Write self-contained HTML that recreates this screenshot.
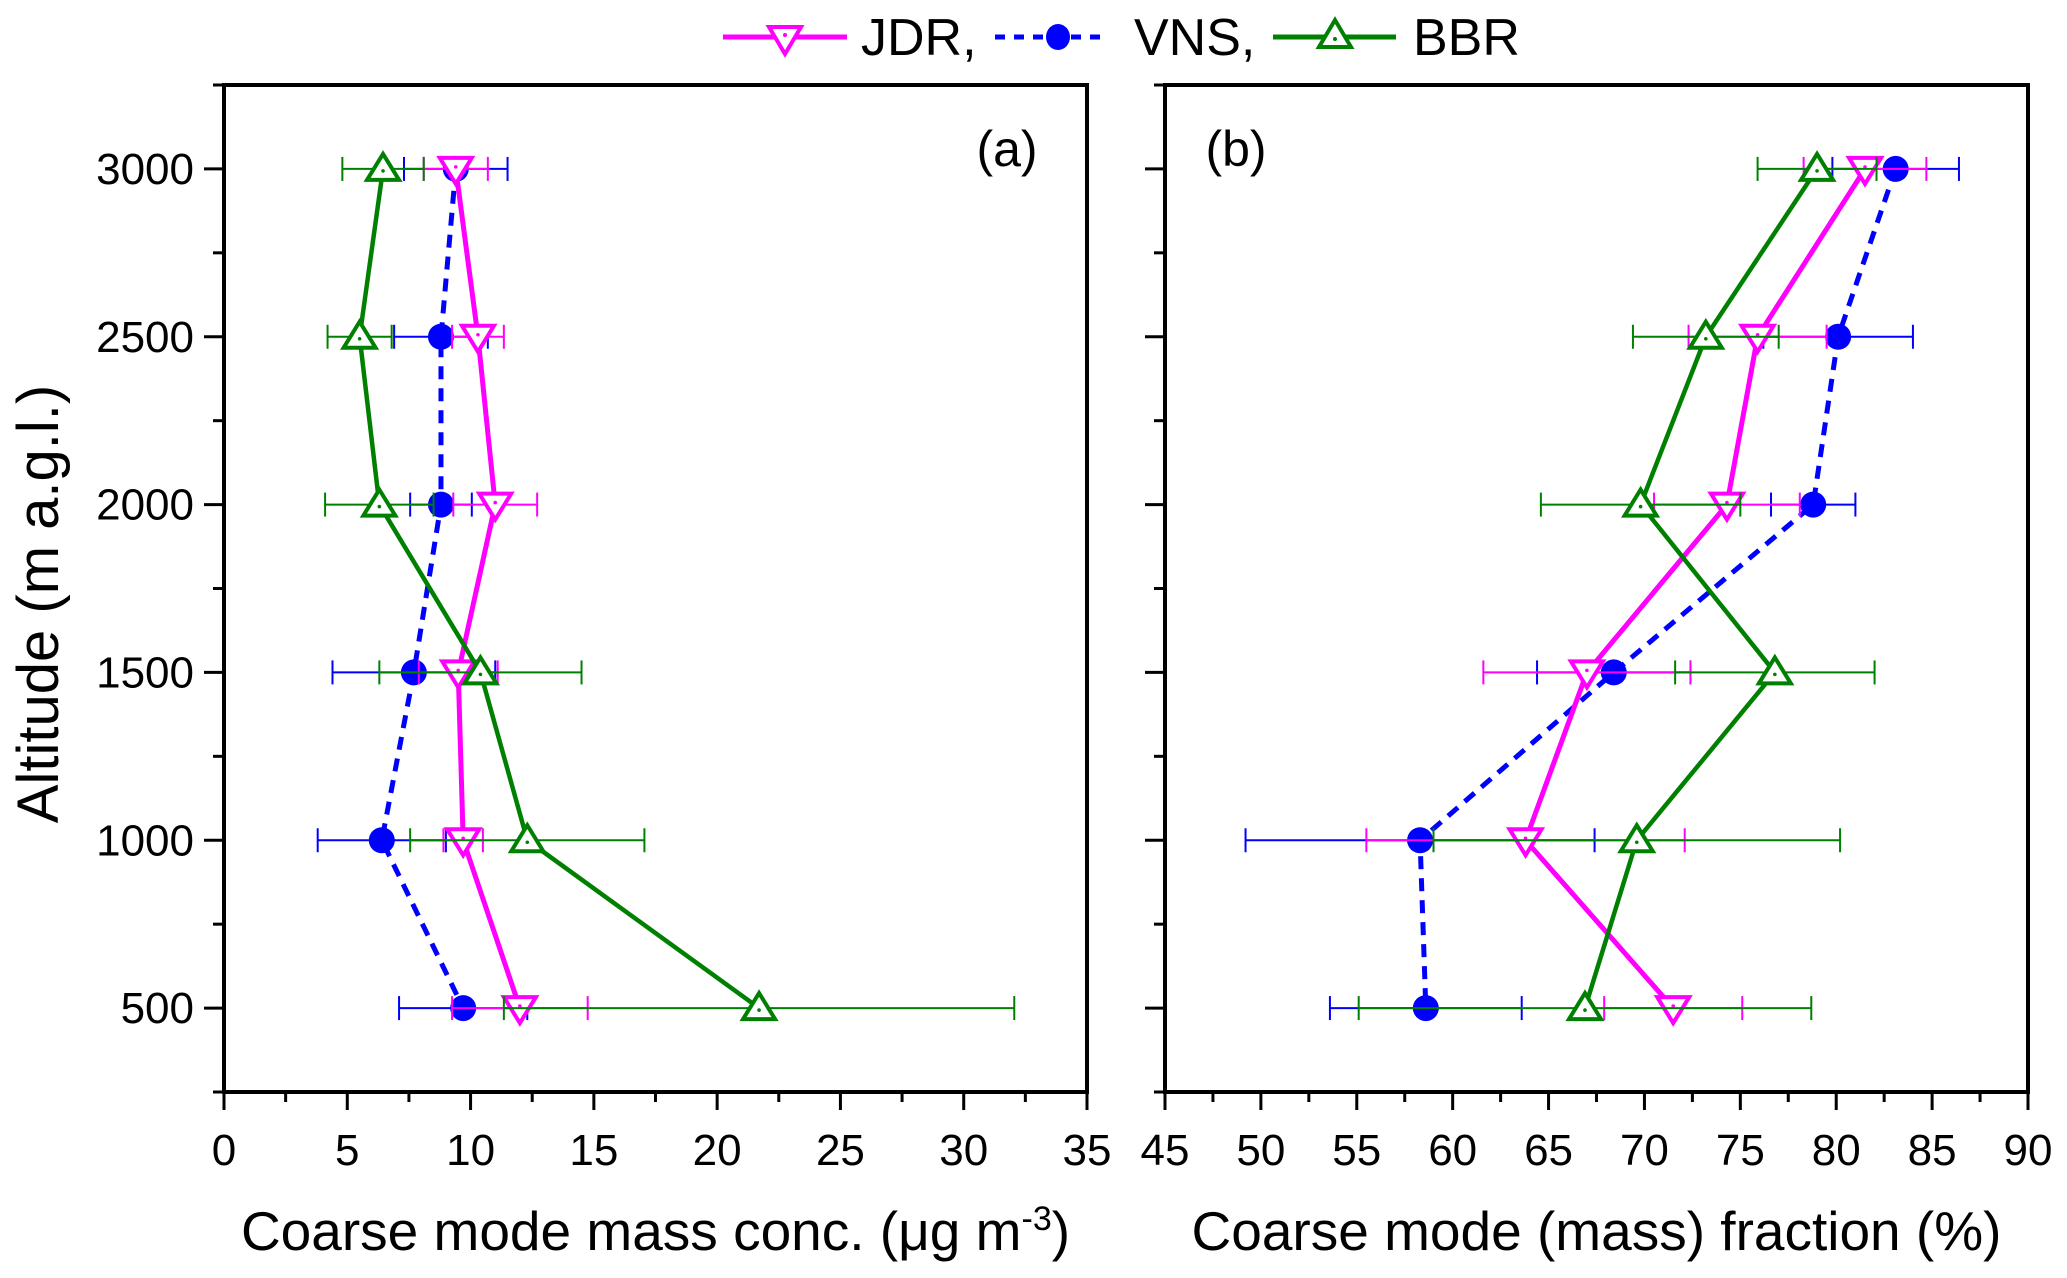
<!DOCTYPE html>
<html><head><meta charset="utf-8"><style>
html,body{margin:0;padding:0;background:#fff;}
svg{display:block;font-family:"Liberation Sans",sans-serif;}
</style></head><body>
<svg id="chart" width="2067" height="1278" viewBox="0 0 2067 1278" xmlns="http://www.w3.org/2000/svg">
<g id="legend">
  <g>
    <line x1="723" y1="37" x2="847" y2="37" stroke="#ff00ff" stroke-width="5"/>
    <path d="M769,27 L801,27 L785,54 Z" fill="#fff" stroke="#ff00ff" stroke-width="4"/>
    <circle cx="785" cy="35" r="2" fill="#ff00ff"/>
    <text x="861" y="55" font-size="52">JDR,</text>
  </g>
  <g>
    <line x1="995" y1="37" x2="1106" y2="37" stroke="#0000ff" stroke-width="5" stroke-dasharray="10,9"/>
    <ellipse cx="1058" cy="37" rx="12" ry="13" fill="#0000ff"/>
    <text x="1134" y="55" font-size="52">VNS,</text>
  </g>
  <g>
    <line x1="1273" y1="37" x2="1396" y2="37" stroke="#008000" stroke-width="5"/>
    <path d="M1319,47 L1351,47 L1335,20 Z" fill="#fff" stroke="#008000" stroke-width="4"/>
    <circle cx="1335" cy="39" r="2" fill="#008000"/>
    <text x="1413" y="55" font-size="52">BBR</text>
  </g>
</g>
</svg>
<script>
const altitudes = [3000, 2500, 2000, 1500, 1000, 500];
// Panel (a): coarse mode mass concentration
const jdrConc = [9.4, 10.3, 11.0, 9.5, 9.7, 12.0];
const jdrConcErr = [1.3, 1.05, 1.7, 1.6, 0.8, 2.75];
const vnsConc = [9.4, 8.8, 8.8, 7.7, 6.4, 9.7];
const vnsConcErr = [2.1, 1.9, 1.25, 3.3, 2.6, 2.6];
const bbrConc = [6.45, 5.5, 6.3, 10.4, 12.3, 21.7];
const bbrConcErr = [1.65, 1.3, 2.2, 4.1, 4.75, 10.35];
// Panel (b): coarse mode mass fraction
const jdrFrac = [81.5, 75.9, 74.3, 67.0, 63.8, 71.5];
const jdrFracErr = [3.2, 3.6, 3.8, 5.4, 8.3, 3.6];
const vnsFrac = [83.1, 80.1, 78.8, 68.4, 58.3, 58.6];
const vnsFracErr = [3.3, 3.9, 2.2, 4.0, 9.1, 5.0];
const bbrFrac = [79.0, 73.2, 69.8, 76.8, 69.6, 66.9];
const bbrFracErr = [3.1, 3.8, 5.2, 5.2, 10.6, 11.8];
const xTicksA = [0, 5, 10, 15, 20, 25, 30, 35];
const xTicksB = [45, 50, 55, 60, 65, 70, 75, 80, 85, 90];
const yTicks = [500, 1000, 1500, 2000, 2500, 3000];

const NS = "http://www.w3.org/2000/svg";
const svg = document.getElementById('chart');
function mk(tag, attrs, parent) {
  const e = document.createElementNS(NS, tag);
  for (const k in attrs) e.setAttribute(k, attrs[k]);
  (parent || svg).appendChild(e);
  return e;
}
const TOP = 85, BOT = 1092, YMIN = 250, YMAX = 3250;
function yScale(v) { return BOT - (v - YMIN) / (YMAX - YMIN) * (BOT - TOP); }

function panel(name, left, right, xmin, xmax, ticks, labelY, title, tag, tagX, series) {
  const g = mk('g', {});
  
  
  const xs = v => left + (v - xmin) / (xmax - xmin) * (right - left);
  const fr = mk('rect', {x: left, y: TOP, width: right - left, height: BOT - TOP, fill: 'none', stroke: '#000', 'stroke-width': 4}, g);
  
  
  const xa = mk('g', {}, g);
  
  
  ticks.forEach((t, i) => {
    const x = xs(t);
    mk('line', {x1: x, y1: BOT, x2: x, y2: BOT + 18, stroke: '#000', 'stroke-width': 3}, xa);
    if (i < ticks.length - 1) {
      const xm = xs(t + (ticks[1] - ticks[0]) / 2);
      mk('line', {x1: xm, y1: BOT, x2: xm, y2: BOT + 10, stroke: '#000', 'stroke-width': 3}, xa);
    }
    const tx = mk('text', {x: x, y: 1165, 'font-size': 44, 'text-anchor': 'middle'}, xa);
    tx.textContent = t;
    
    
  });
  const xt = mk('text', {x: (left + right) / 2, y: 1250, 'font-size': 55, 'text-anchor': 'middle'}, g);
  xt.innerHTML = title;
  
  
  const ya = mk('g', {}, g);
  
  
  for (let v = 250; v <= 3250; v += 250) {
    const y = yScale(v);
    const major = v % 500 === 0;
    mk('line', {x1: left - (major ? 20 : 11), y1: y, x2: left, y2: y, stroke: '#000', 'stroke-width': 3}, ya);
  }
  if (labelY) {
    yTicks.forEach(v => {
      const ty = mk('text', {x: 194, y: yScale(v) + 15, 'font-size': 44, 'text-anchor': 'end'}, ya);
      ty.textContent = v;
      
      
    });
  }
  const tg = mk('text', {x: tagX, y: 166, 'font-size': 50, 'text-anchor': 'middle'}, g);
  tg.textContent = tag;
  
  

  series.forEach(s => {
    const sg = mk('g', {}, g);
    
    
    s.vals.forEach((v, i) => {
      const y = yScale(altitudes[i]);
      const a = xs(v - s.err[i]), b = xs(v + s.err[i]);
      const eb = mk('g', {stroke: s.color, 'stroke-width': 2}, sg);
      
      
      mk('line', {x1: a, y1: y, x2: b, y2: y}, eb);
      mk('line', {x1: a, y1: y - 12, x2: a, y2: y + 12}, eb);
      mk('line', {x1: b, y1: y - 12, x2: b, y2: y + 12}, eb);
    });
    const pts = s.vals.map((v, i) => xs(v) + ',' + yScale(altitudes[i])).join(' ');
    const ln = mk('polyline', {points: pts, fill: 'none', stroke: s.color, 'stroke-width': s.lw, 'stroke-dasharray': s.dash || 'none', 'stroke-linejoin': 'round'}, sg);
    
    
    s.vals.forEach((v, i) => {
      const x = xs(v), y = yScale(altitudes[i]);
      let m;
      if (s.marker === 'circle') {
        m = mk('ellipse', {cx: x, cy: y, rx: 13, ry: 13, fill: s.color}, sg);
      } else if (s.marker === 'down') {
        m = mk('path', {d: `M${x-16},${y-11} L${x+16},${y-11} L${x},${y+15} Z`, fill: '#fff', stroke: s.color, 'stroke-width': 4}, sg);
        mk('circle', {cx: x, cy: y - 2, r: 1.8, fill: s.color}, sg);
      } else {
        m = mk('path', {d: `M${x-16},${y+11} L${x+16},${y+11} L${x},${y-15} Z`, fill: '#fff', stroke: s.color, 'stroke-width': 4}, sg);
        mk('circle', {cx: x, cy: y + 2, r: 1.8, fill: s.color}, sg);
      }
      
      
    });
  });
}

panel('a', 224, 1087, 0, 35, xTicksA, true,
  'Coarse mode mass conc. (μg m<tspan dy="-20" font-size="34">-3</tspan><tspan dy="20">)</tspan>', '(a)', 1007,
  [
    {id: 'vns', vals: vnsConc, err: vnsConcErr, color: '#0000ff', lw: 5, dash: '13,9', marker: 'circle'},
    {id: 'jdr', vals: jdrConc, err: jdrConcErr, color: '#ff00ff', lw: 5, marker: 'down'},
    {id: 'bbr', vals: bbrConc, err: bbrConcErr, color: '#008000', lw: 4.5, marker: 'up'}
  ]);
panel('b', 1165, 2028, 45, 90, xTicksB, false,
  'Coarse mode (mass) fraction (%)', '(b)', 1236,
  [
    {id: 'vns', vals: vnsFrac, err: vnsFracErr, color: '#0000ff', lw: 5, dash: '13,9', marker: 'circle'},
    {id: 'jdr', vals: jdrFrac, err: jdrFracErr, color: '#ff00ff', lw: 5, marker: 'down'},
    {id: 'bbr', vals: bbrFrac, err: bbrFracErr, color: '#008000', lw: 4.5, marker: 'up'}
  ]);

const yt = mk('text', {x: 0, y: 0, 'font-size': 58, 'text-anchor': 'middle', transform: 'translate(58,604) rotate(-90)'});
yt.textContent = 'Altitude (m a.g.l.)';


</script>
</body></html>
